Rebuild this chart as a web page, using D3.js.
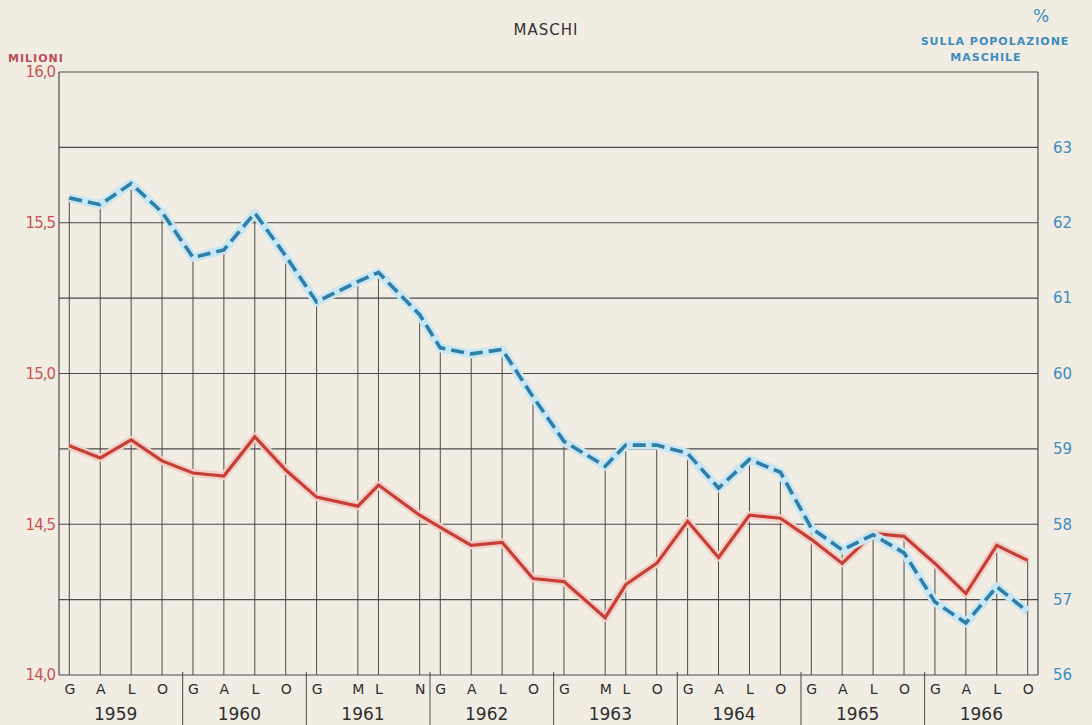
<!DOCTYPE html>
<html>
<head>
<meta charset="utf-8">
<script src="https://cdn.jsdelivr.net/npm/d3@7"></script>
<style>
  body { margin: 0; background: #f1ede3; }
  svg { display: block; }
  text { font-family: "DejaVu Sans", sans-serif; }
</style>
</head>
<body>
<div id="chart"></div>
<script>
// Survey months, counted from January 1959 (G=gennaio, A=aprile, M=maggio, L=luglio, O=ottobre, N=novembre)
const months = [0, 3, 6, 9, 12, 15, 18, 21, 24, 28, 30, 34, 36, 39, 42, 45,
                48, 52, 54, 57, 60, 63, 66, 69, 72, 75, 78, 81, 84, 87, 90, 93];
const monthLetters = ["G", "A", "L", "O", "G", "A", "L", "O", "G", "M", "L", "N", "G", "A", "L", "O",
                      "G", "M", "L", "O", "G", "A", "L", "O", "G", "A", "L", "O", "G", "A", "L", "O"];
const years = [1959, 1960, 1961, 1962, 1963, 1964, 1965, 1966];

// Occupati maschi, milioni (left axis)
const milioni = [14.76, 14.72, 14.78, 14.71, 14.67, 14.66, 14.79, 14.68,
                 14.59, 14.56, 14.63, 14.53, 14.49, 14.43, 14.44, 14.32,
                 14.31, 14.19, 14.30, 14.37, 14.51, 14.39, 14.53, 14.52,
                 14.45, 14.37, 14.47, 14.46, 14.37, 14.27, 14.43, 14.38];

// % sulla popolazione maschile (right axis)
const percento = [62.33, 62.24, 62.52, 62.14, 61.54, 61.64, 62.13, 61.56,
                  60.95, 61.22, 61.34, 60.78, 60.34, 60.26, 60.32, 59.69,
                  59.10, 58.77, 59.05, 59.05, 58.94, 58.48, 58.86, 58.69,
                  57.95, 57.66, 57.86, 57.62, 56.97, 56.69, 57.17, 56.84];

const leftTicks = [14, 14.5, 15, 15.5, 16];
const rightTicks = [56, 57, 58, 59, 60, 61, 62, 63];

const width = 1092, height = 725;
const margin = {top: 72, right: 54, bottom: 50, left: 59};

const svg = d3.select("#chart").append("svg")
    .attr("width", width)
    .attr("height", height);

const x = d3.scaleLinear().domain([-1, 94]).range([margin.left, width - margin.right]);
const yLeft = d3.scaleLinear().domain([14, 16]).range([height - margin.bottom, margin.top]);
const yRight = d3.scaleLinear().domain([56, 64]).range([height - margin.bottom, margin.top]);

const x0 = x.range()[0], x1 = x.range()[1];
const yBase = yLeft(14);

const ink = "#4a4a48";
const red = "#c63f37";
const blue = "#2f7ea8";

// horizontal grid: one line per percent point (= 0,25 milioni)
svg.append("g").selectAll("line")
    .data(yRight.ticks(8))
    .enter().append("line")
    .attr("x1", x0).attr("x2", x1)
    .attr("y1", d => yRight(d)).attr("y2", d => yRight(d))
    .attr("stroke", ink).attr("stroke-width", 1.1);

// frame sides
svg.append("line").attr("x1", x0).attr("x2", x0).attr("y1", yLeft(16)).attr("y2", yBase)
    .attr("stroke", ink).attr("stroke-width", 1.2);
svg.append("line").attr("x1", x1).attr("x2", x1).attr("y1", yLeft(16)).attr("y2", yBase)
    .attr("stroke", ink).attr("stroke-width", 1.2);

// drop lines from the higher point of each survey
svg.append("g").selectAll("line")
    .data(months)
    .enter().append("line")
    .attr("x1", d => x(d)).attr("x2", d => x(d))
    .attr("y1", (d, i) => Math.min(yLeft(milioni[i]), yRight(percento[i])))
    .attr("y2", yBase)
    .attr("stroke", ink).attr("stroke-width", 1);

// year separators under the axis
svg.append("g").selectAll("line")
    .data(years.slice(1))
    .enter().append("line")
    .attr("x1", (d, i) => x(-1 + 12 * (i + 1))).attr("x2", (d, i) => x(-1 + 12 * (i + 1)))
    .attr("y1", yBase - 3).attr("y2", height)
    .attr("stroke", ink).attr("stroke-width", 1);

// lines
const lineRed = d3.line().x((d, i) => x(months[i])).y(d => yLeft(d));
const lineBlue = d3.line().x((d, i) => x(months[i])).y(d => yRight(d));

svg.append("path").datum(milioni)
    .attr("d", lineRed).attr("fill", "none")
    .attr("stroke", "#f2cfc6").attr("stroke-width", 8).attr("stroke-linejoin", "round");
svg.append("path").datum(milioni)
    .attr("d", lineRed).attr("fill", "none")
    .attr("stroke", red).attr("stroke-width", 3.2).attr("stroke-linejoin", "miter");

svg.append("path").datum(percento)
    .attr("d", lineBlue).attr("fill", "none")
    .attr("stroke", "#c9e6f3").attr("stroke-width", 9).attr("stroke-linejoin", "round");
svg.append("path").datum(percento)
    .attr("d", lineBlue).attr("fill", "none")
    .attr("stroke", blue).attr("stroke-width", 3.6)
    .attr("stroke-dasharray", "13,6");

// left axis labels (red)
const fmt = d3.formatLocale({decimal: ",", thousands: ".", grouping: [3], currency: ["", ""]}).format(".1f");
const axL = svg.append("g")
    .attr("transform", "translate(" + (x0 - 4) + ",0)")
    .call(d3.axisLeft(yLeft).tickValues(leftTicks).tickSize(0).tickPadding(0).tickFormat(fmt));
axL.select(".domain").remove();
axL.selectAll("text").attr("fill", "#c85550").attr("font-size", 15)
    .attr("font-family", "DejaVu Sans, sans-serif").attr("letter-spacing", "-1");

// right axis labels (blue)
const axR = svg.append("g")
    .attr("transform", "translate(" + (x1 + 15) + ",0)")
    .call(d3.axisRight(yRight).tickValues(rightTicks).tickSize(0).tickPadding(0));
axR.select(".domain").remove();
axR.selectAll("text").attr("fill", "#3d8cc0").attr("font-size", 15)
    .attr("font-family", "DejaVu Sans, sans-serif");

// bottom month letters
const axB = svg.append("g")
    .attr("transform", "translate(0," + yBase + ")")
    .call(d3.axisBottom(x).tickValues(months).tickSize(0).tickPadding(9)
        .tickFormat((d, i) => monthLetters[i]));
axB.select(".domain").remove();
axB.selectAll("text").attr("fill", "#2e2e2e").attr("font-size", 14)
    .attr("font-family", "DejaVu Sans, sans-serif");

// year labels
svg.append("g").selectAll("text")
    .data(years)
    .enter().append("text")
    .attr("x", (d, i) => x(12 * i + 4.5))
    .attr("y", 720)
    .attr("text-anchor", "middle")
    .attr("fill", "#2e2e2e")
    .attr("font-size", 17)
    .text(d => d);

// titles
svg.append("text").attr("x", 546).attr("y", 35).attr("text-anchor", "middle")
    .attr("fill", "#333").attr("font-size", 15).attr("letter-spacing", "1")
    .text("MASCHI");
svg.append("text").attr("x", 8).attr("y", 62)
    .attr("fill", "#c04a58").attr("font-size", 11).attr("font-weight", "bold").attr("letter-spacing", "1")
    .text("MILIONI");
svg.append("text").attr("x", 1041).attr("y", 22).attr("text-anchor", "middle")
    .attr("fill", "#3d8cc0").attr("font-size", 17)
    .text("%");
svg.append("text").attr("x", 995).attr("y", 45).attr("text-anchor", "middle")
    .attr("fill", "#3d8cc0").attr("font-size", 11).attr("font-weight", "bold").attr("letter-spacing", "1")
    .text("SULLA POPOLAZIONE");
svg.append("text").attr("x", 986).attr("y", 61).attr("text-anchor", "middle")
    .attr("fill", "#3d8cc0").attr("font-size", 11).attr("font-weight", "bold").attr("letter-spacing", "1")
    .text("MASCHILE");
</script>
</body>
</html>
